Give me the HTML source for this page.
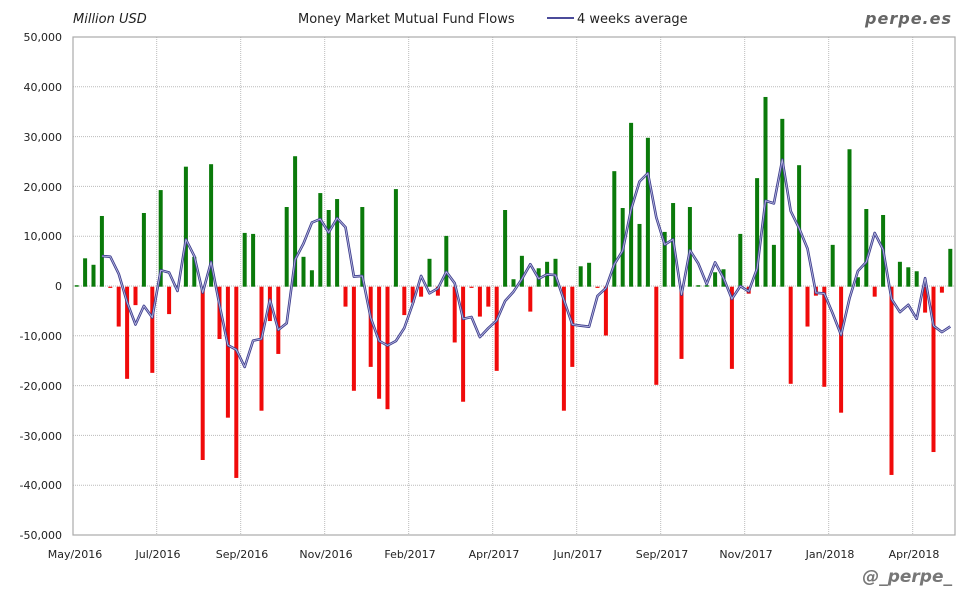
<!DOCTYPE html>
<html><head><meta charset="utf-8"><style>
html,body{margin:0;padding:0;background:#fff;}
svg{display:block;}
text{font-family:"DejaVu Sans","Liberation Sans",sans-serif;}
</style></head><body>
<svg id="c" width="980" height="600" xmlns="http://www.w3.org/2000/svg">
<rect x="0" y="0" width="980" height="600" fill="#fff"/>
<g id="grid"></g>
<g id="bars"></g>
<g id="line"></g>
<rect x="73" y="37" width="882" height="498" fill="none" stroke="#aaa" stroke-width="1.2"/>
<g font-size="11" fill="#222" text-anchor="end">
<text x="62" y="41">50,000</text>
<text x="62" y="91">40,000</text>
<text x="62" y="141">30,000</text>
<text x="62" y="191">20,000</text>
<text x="62" y="240">10,000</text>
<text x="62" y="290">0</text>
<text x="62" y="340">-10,000</text>
<text x="62" y="390">-20,000</text>
<text x="62" y="440">-30,000</text>
<text x="62" y="489">-40,000</text>
<text x="62" y="539">-50,000</text>
</g>
<g font-size="11" fill="#222" text-anchor="middle">
<text x="75" y="558">May/2016</text>
<text x="158" y="558">Jul/2016</text>
<text x="242" y="558">Sep/2016</text>
<text x="326" y="558">Nov/2016</text>
<text x="410" y="558">Feb/2017</text>
<text x="494" y="558">Apr/2017</text>
<text x="578" y="558">Jun/2017</text>
<text x="662" y="558">Sep/2017</text>
<text x="746" y="558">Nov/2017</text>
<text x="830" y="558">Jan/2018</text>
<text x="914" y="558">Apr/2018</text>
</g>
<text x="73" y="23" font-size="13" font-style="italic" fill="#222">Million USD</text>
<text x="298" y="23" font-size="13" fill="#222">Money Market Mutual Fund Flows</text>
<line x1="547" y1="18" x2="574" y2="18" stroke="#4b4b9a" stroke-width="2"/>
<text x="577" y="23" font-size="13" fill="#222">4 weeks average</text>
<text x="952" y="24" font-size="16" font-weight="bold" font-style="italic" fill="#666" text-anchor="end" font-family="DejaVu Sans Mono,Liberation Mono,monospace" letter-spacing="1">perpe.es</text>
<text x="952" y="582" font-size="17" font-weight="bold" font-style="italic" fill="#777" text-anchor="end" font-family="DejaVu Sans Mono,Liberation Mono,monospace">@_perpe_</text>
</svg>
<script>
var d=[0.3,5.7,4.4,14.2,-0.2,-8.0,-18.5,-3.7,14.8,-17.3,19.4,-5.5,0,24.1,6.0,-34.8,24.6,-10.5,-26.3,-38.4,10.8,10.6,-24.9,-6.9,-13.5,16.0,26.2,6.0,3.3,18.8,15.4,17.6,-4.0,-20.9,16.0,-16.1,-22.5,-24.6,19.6,-5.7,-3.2,-2.0,5.6,-1.8,10.2,-11.2,-23.1,-0.2,-6.0,-4.0,-16.9,15.4,1.5,6.2,-5.0,3.7,5.0,5.6,-24.9,-16.1,4.1,4.8,-0.2,-9.8,23.2,15.8,32.9,12.6,29.9,-19.7,11.0,16.8,-14.5,16.0,0.3,0.3,2.9,3.5,-16.5,10.6,-1.4,21.8,38.1,8.4,33.7,-19.5,24.4,-8.0,-1.8,-20.1,8.4,-25.3,27.6,1.9,15.6,-2.0,14.4,-37.8,5.0,3.9,3.1,-5.2,-33.2,-1.2,7.6];
var NS="http://www.w3.org/2000/svg";
function el(t,a,p){var e=document.createElementNS(NS,t);for(var k in a)e.setAttribute(k,a[k]);document.getElementById(p).appendChild(e);return e;}
var z=286.7,s=4.98;
for(var i=1;i<10;i++){var y=37+i*49.8;el('line',{x1:73,x2:955,y1:y,y2:y,stroke:'#bbb','stroke-dasharray':'1,1'},'grid');}
for(var i=1;i<11;i++){var x=73+i*84-0.3;if(x<955)el('line',{x1:x,x2:x,y1:37,y2:535,stroke:'#bbb','stroke-dasharray':'1,1'},'grid');}
var pts=[];
for(var i=0;i<d.length;i++){var x=76.7+8.4*i,v=d[i],h=Math.abs(v)*s;
 if(h<1.2)h=1.2;
 el('rect',{x:x-2,y:v>=0?z-h:z,width:4,height:h,fill:v>=0?'#0a7a0a':'#f00a0a'},'bars');
 if(i>=3){var a=(d[i]+d[i-1]+d[i-2]+d[i-3])/4;pts.push(x.toFixed(1)+','+(z-a*s).toFixed(1));}
}
el('polyline',{points:pts.join(' '),fill:'none',stroke:'#3c3c8c','stroke-width':2.6,'stroke-linejoin':'round'},'line');
el('polyline',{points:pts.join(' '),fill:'none',stroke:'#b8b8e0','stroke-width':0.9,'stroke-linejoin':'round'},'line');
</script>
</body></html>
